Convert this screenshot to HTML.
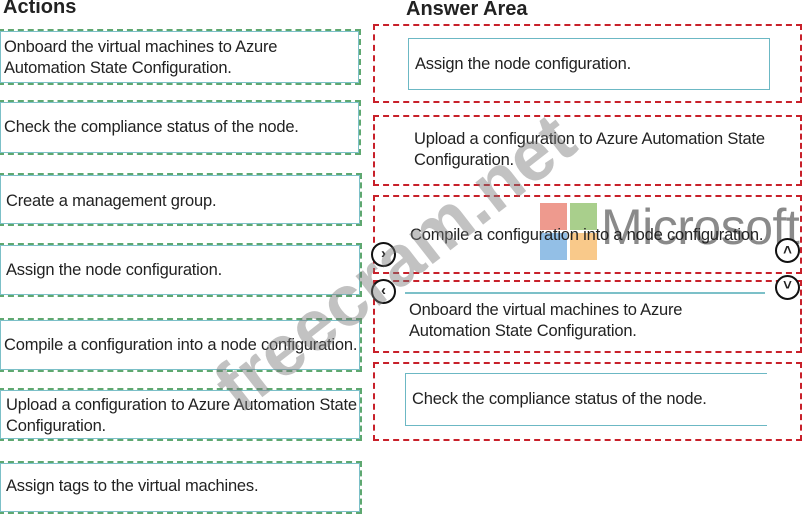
<!DOCTYPE html>
<html><head><style>
body{margin:0;width:803px;height:515px;background:#fff;position:relative;overflow:hidden;font-family:"Liberation Sans",Arial,sans-serif;color:#222}
.a{position:absolute}
.g{position:absolute;box-sizing:border-box;border:2px dashed #5ea870;outline:1px solid #7cc0c8;outline-offset:-3px}
.r{position:absolute;box-sizing:border-box;border:2px dashed #c8202a}
.t{position:absolute;font-size:16.5px;line-height:21px;letter-spacing:-0.2px;white-space:nowrap}
.c{position:absolute;width:25px;height:25px;border:2.5px solid #111;border-radius:50%;box-sizing:border-box;font-size:15px;font-weight:bold;text-align:center;line-height:19px;background:#fff}
</style></head><body>
<div class="a" style="left:3px;top:-4px;font-size:20px;font-weight:bold">Actions</div>
<div class="a" style="left:406px;top:-2px;font-size:20px;font-weight:bold">Answer Area</div>

<div class="g" style="left:-2px;top:29px;width:363px;height:56px"></div>
<div class="t" style="left:4px;top:37px">Onboard the virtual machines to Azure<br>Automation State Configuration.</div>
<div class="g" style="left:-2px;top:100px;width:363px;height:55px"></div>
<div class="t" style="left:4px;top:117px">Check the compliance status of the node.</div>
<div class="g" style="left:-2px;top:173px;width:364px;height:53px"></div>
<div class="t" style="left:6px;top:191px">Create a management group.</div>
<div class="g" style="left:-2px;top:243px;width:364px;height:54px"></div>
<div class="t" style="left:6px;top:260px">Assign the node configuration.</div>
<div class="g" style="left:-2px;top:318px;width:364px;height:54px"></div>
<div class="t" style="left:4px;top:335px">Compile a configuration into a node configuration.</div>
<div class="g" style="left:-2px;top:388px;width:364px;height:53px"></div>
<div class="t" style="left:6px;top:395px">Upload a configuration to Azure Automation State<br>Configuration.</div>
<div class="g" style="left:-2px;top:461px;width:364px;height:53px"></div>
<div class="t" style="left:6px;top:476px">Assign tags to the virtual machines.</div>

<div class="r" style="left:373px;top:24px;width:429px;height:79px"></div>
<div class="a" style="left:408px;top:38px;width:362px;height:52px;border:1px solid #6cb8c4;box-sizing:border-box"></div>
<div class="t" style="left:415px;top:54px">Assign the node configuration.</div>
<div class="r" style="left:373px;top:115px;width:429px;height:71px"></div>
<div class="t" style="left:414px;top:129px">Upload a configuration to Azure Automation State<br>Configuration.</div>
<div class="r" style="left:373px;top:195px;width:429px;height:79px"></div>
<div class="a" style="left:540px;top:203px;width:27px;height:27px;background:#ee9a8e"></div>
<div class="a" style="left:570px;top:203px;width:27px;height:27px;background:#a9cf8c"></div>
<div class="a" style="left:540px;top:233px;width:27px;height:27px;background:#93bfe6"></div>
<div class="a" style="left:570px;top:233px;width:27px;height:27px;background:#f9c98a"></div>
<div class="a" style="left:601px;top:198px;font-size:50px;color:#8a8a8a;letter-spacing:-0.5px">Microsoft</div>
<div class="t" style="left:410px;top:225px">Compile a configuration into a node configuration.</div>
<div class="r" style="left:373px;top:280px;width:429px;height:73px"></div>
<div class="a" style="left:405px;top:292px;width:360px;height:2px;background:#7cc0c8"></div>
<div class="t" style="left:409px;top:300px">Onboard the virtual machines to Azure<br>Automation State Configuration.</div>
<div class="r" style="left:373px;top:362px;width:429px;height:79px"></div>
<div class="a" style="left:405px;top:373px;width:362px;height:53px;border:1px solid #6cb8c4;border-right:none;box-sizing:border-box"></div>
<div class="t" style="left:412px;top:389px">Check the compliance status of the node.</div>

<div class="c" style="left:371px;top:242px">&#x203A;</div>
<div class="c" style="left:371px;top:279px">&#x2039;</div>
<div class="c" style="left:775px;top:238px;line-height:22px">&#x2C4;</div>
<div class="c" style="left:775px;top:275px;line-height:18px">&#x2C5;</div>

<div class="a" style="left:165px;top:222px;font-size:72px;font-weight:bold;color:rgba(120,120,120,0.45);transform:rotate(-38deg);transform-origin:center;white-space:nowrap;width:460px;text-align:center">freecram.net</div>
</body></html>
